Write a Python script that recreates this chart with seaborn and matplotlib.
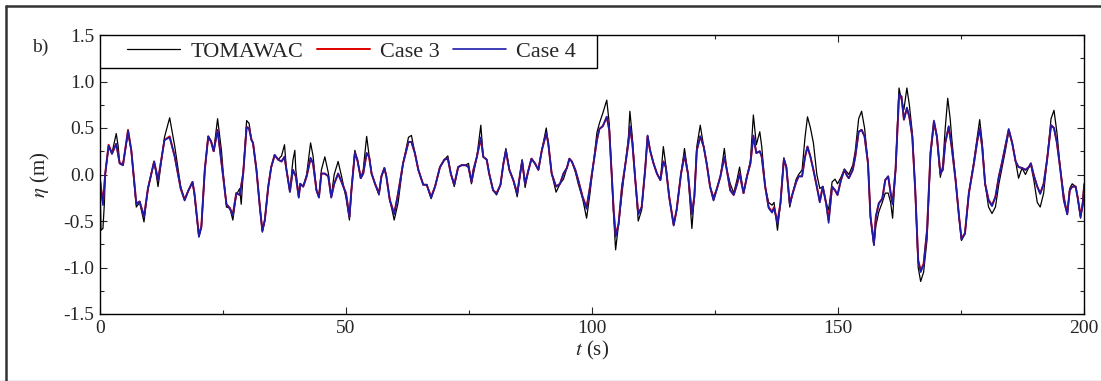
import numpy as np
import pandas as pd
import matplotlib
matplotlib.use("Agg")
import matplotlib.pyplot as plt
from matplotlib.patches import Rectangle
from matplotlib.lines import Line2D
from matplotlib.ticker import MultipleLocator, FormatStrFormatter
import seaborn as sns

# TOMAWAC reference signal (time in s, elevation in m)
t_tomawac = [
    0.0, 0.2, 0.6, 0.9, 1.07, 1.75, 2.43, 3.3, 3.7, 4.0, 4.67, 5.7, 6.36, 7.38, 8.06, 8.94, 9.75,
    11.0, 11.8, 13.1, 14.16, 15.2, 16.4, 17.2, 17.9, 18.8, 19.2, 20.1, 20.6, 21.3, 22.0, 22.6,
    23.1, 23.9, 24.7, 25.0, 25.7, 26.4, 27.0, 27.7, 28.4, 28.7, 29.1, 29.8, 30.3, 30.8, 31.1,
    31.8, 32.5, 33.0, 33.5, 34.2, 34.8, 35.5, 36.2, 36.9, 37.5, 37.9, 38.6, 39.2, 39.6, 39.8,
    40.4, 40.7, 41.3, 42.0, 42.8, 43.3, 44.0, 44.5, 45.0, 45.7, 46.4, 47.0, 47.6, 48.4, 49.1,
    50.0, 50.7, 51.1, 51.8, 52.3, 53.0, 53.5, 54.2, 54.7, 55.2, 55.9, 56.7, 57.2, 57.8, 58.2,
    58.9, 59.8, 60.6, 61.6, 62.7, 63.3, 64.0, 64.7, 65.7, 66.4, 67.3, 68.1, 69.1, 70.0, 70.7,
    71.3, 72.0, 72.8, 73.5, 74.3, 74.9, 75.5, 76.6, 77.4, 77.9, 78.6, 79.1, 79.9, 80.6, 81.4,
    82.0, 82.5, 83.2, 84.0, 84.8, 85.4, 85.8, 86.4, 87.1, 87.7, 88.4, 89.1, 89.8, 90.7, 91.1,
    91.8, 92.7, 93.5, 94.2, 94.9, 95.4, 95.9, 96.6, 97.2, 98.1, 98.9, 99.6, 100.3, 101.0,
    101.5, 102.2, 103.0, 103.5, 104.0, 104.4, 104.8, 105.4, 106.1, 106.7, 107.4, 107.7, 108.2,
    108.8, 109.4, 110.1, 110.8, 111.3, 111.8, 112.5, 113.2, 113.9, 114.5, 115.0, 115.7, 116.6,
    117.2, 118.1, 118.8, 119.5, 120.3, 120.8, 121.3, 122.0, 122.7, 123.3, 124.0, 124.7, 125.4,
    126.1, 126.9, 127.4, 128.1, 128.8, 129.5, 130.0, 130.8, 131.5, 132.2, 132.8, 133.4, 134.1,
    134.5, 135.2, 135.9, 136.6, 137.0, 137.7, 138.3, 139.0, 139.5, 140.2, 140.8, 141.5, 142.0,
    142.7, 143.3, 143.8, 144.4, 145.0, 145.7, 146.3, 146.9, 147.6, 148.1, 148.8, 149.4, 149.9,
    150.6, 151.3, 152.2, 153.0, 153.5, 154.2, 154.8, 155.4, 156.1, 156.6, 157.3, 157.7, 158.3,
    159.0, 159.6, 160.2, 160.7, 161.1, 161.7, 162.4, 162.9, 163.4, 164.0, 164.5, 165.1, 165.7,
    166.3, 166.8, 167.4, 168.1, 168.8, 169.5, 170.1, 170.8, 171.3, 171.8, 172.3, 172.8, 173.1,
    173.9, 174.6, 175.1, 175.8, 176.6, 177.6, 178.3, 178.8, 179.3, 179.9, 180.6, 181.3, 182.0,
    182.7, 183.3, 184.0, 184.7, 185.4, 186.1, 186.7, 187.4, 188.1, 188.8, 189.2, 189.8, 190.5,
    191.1, 191.8, 192.5, 193.3, 193.9, 194.5, 195.2, 195.9, 196.6, 197.1, 197.6, 198.3, 198.7,
    199.3, 199.8, 200.0,
]
eta_tomawac = [
    -0.10, -0.60, -0.58, -0.30, 0.01, 0.30, 0.23, 0.44, 0.30, 0.12, 0.12, 0.44, 0.26, -0.35, -0.30, -0.51, -0.15,
    0.14, -0.13, 0.40, 0.61, 0.30, -0.13, -0.27, -0.18, -0.08, -0.22, -0.67, -0.56, 0.05, 0.41, 0.36,
    0.25, 0.60, 0.25, 0.05, -0.35, -0.36, -0.49, -0.22, -0.15, -0.32, 0.01, 0.58, 0.55, 0.37, 0.34,
    0.05, -0.35, -0.62, -0.49, -0.13, 0.08, 0.21, 0.16, 0.20, 0.32, 0.05, -0.18, 0.15, 0.26, 0.05,
    -0.24, -0.10, -0.13, 0.00, 0.34, 0.20, -0.17, -0.24, 0.05, 0.19, 0.02, -0.24, 0.00, 0.14, -0.02,
    -0.25, -0.49, -0.17, 0.26, 0.16, -0.04, 0.05, 0.41, 0.20, 0.01, -0.10, -0.22, -0.02, 0.07, -0.02,
    -0.27, -0.49, -0.30, 0.12, 0.40, 0.42, 0.23, 0.05, -0.11, -0.11, -0.26, -0.13, 0.08, 0.16, 0.20,
    0.01, -0.13, 0.08, 0.10, 0.10, 0.12, -0.10, 0.19, 0.53, 0.19, 0.16, 0.01, -0.17, -0.22, -0.11,
    0.12, 0.28, 0.05, -0.06, -0.24, 0.01, 0.16, -0.14, 0.05, 0.17, 0.12, 0.05, 0.26, 0.50, 0.34,
    0.01, -0.19, -0.10, -0.05, 0.07, 0.17, 0.14, 0.03, -0.10, -0.26, -0.47, -0.20, 0.12, 0.45,
    0.55, 0.66, 0.80, 0.55, 0.01, -0.45, -0.81, -0.53, -0.20, 0.08, 0.40, 0.68, 0.40,
    -0.06, -0.50, -0.38, 0.05, 0.41, 0.26, 0.12, 0.01, -0.06, 0.30, 0.10, -0.24, -0.54,
    -0.38, 0.01, 0.28, 0.01, -0.58, -0.24, 0.30, 0.53, 0.30, 0.12, -0.13, -0.24, -0.15,
    -0.02, 0.28, 0.05, -0.10, -0.20, -0.05, 0.08, -0.20, -0.02, 0.15, 0.64, 0.32, 0.46,
    0.30, -0.13, -0.30, -0.33, -0.30, -0.60, -0.31, 0.18, 0.08, -0.35, -0.20, -0.05, 0.00,
    0.05, 0.40, 0.62, 0.50, 0.34, 0.00, -0.15, -0.13, -0.31, -0.38, -0.08, -0.05, -0.10,
    -0.03, 0.06, 0.00, 0.10, 0.25, 0.60, 0.68, 0.50, 0.12, -0.45, -0.76, -0.55, -0.40,
    -0.30, -0.20, -0.20, -0.30, -0.47, 0.05, 0.93, 0.80, 0.70, 0.93, 0.75, 0.45, -0.17,
    -1.00, -1.15, -1.05, -0.70, 0.20, 0.55, 0.40, -0.03, 0.10, 0.50, 0.82, 0.60, 0.40,
    -0.06, -0.45, -0.71, -0.63, -0.20, 0.14, 0.40, 0.59, 0.35, -0.10, -0.35, -0.42, -0.35,
    -0.10, 0.06, 0.25, 0.46, 0.34, 0.14, -0.04, 0.07, 0.00, 0.08, 0.10, -0.06, -0.30,
    -0.35, -0.20, 0.16, 0.60, 0.69, 0.45, 0.05, -0.22, -0.43, -0.15, -0.10, -0.13, -0.24,
    -0.47, -0.25, -0.10,
]

# Case 3 / Case 4 share the same output times
t_case = [
    0.0, 0.6, 1.07, 1.75, 2.43, 3.3, 4.0, 4.67, 5.7, 6.36, 7.38, 8.06, 8.94, 9.75, 11.0, 11.8,
    13.1, 14.16, 15.2, 16.4, 17.2, 17.9, 18.8, 19.2, 20.1, 20.6, 21.3, 22.0, 22.6, 23.1, 23.9,
    24.7, 25.7, 26.4, 27.0, 27.7, 28.4, 29.1, 29.8, 30.3, 30.8, 31.1, 31.8, 32.5, 33.0, 33.5,
    34.2, 34.8, 35.5, 36.2, 36.9, 37.5, 37.9, 38.6, 39.2, 39.8, 40.4, 40.7, 41.3, 42.0, 42.8,
    43.3, 44.0, 44.5, 45.0, 45.7, 46.4, 47.0, 47.6, 48.4, 49.1, 50.0, 50.7, 51.1, 51.8, 52.3,
    53.0, 53.5, 54.2, 54.7, 55.2, 55.9, 56.7, 57.2, 57.8, 58.2, 58.9, 59.8, 60.6, 61.6, 62.7,
    63.3, 64.0, 64.7, 65.7, 66.4, 67.3, 68.1, 69.1, 70.0, 70.7, 71.3, 72.0, 72.8, 73.5, 74.3,
    74.9, 75.5, 75.9, 76.6, 77.4, 77.9, 78.6, 79.1, 79.9, 80.6, 81.4, 82.0, 82.5, 83.2, 84.0,
    84.8, 85.4, 85.8, 86.4, 87.1, 87.7, 88.4, 89.1, 89.8, 90.7, 91.1, 91.8, 92.7, 93.5, 94.2,
    94.9, 95.4, 95.9, 96.6, 97.2, 98.1, 98.9, 99.6, 100.3, 101.0, 101.5, 102.2, 103.0, 103.5,
    104.0, 104.4, 104.8, 105.4, 106.1, 106.7, 107.4, 107.7, 108.2, 108.8, 109.4, 110.1, 110.8,
    111.3, 111.8, 112.5, 113.2, 113.9, 114.5, 115.0, 115.7, 116.6, 117.2, 118.1, 118.8, 119.5,
    120.3, 120.8, 121.3, 122.0, 122.7, 123.3, 124.0, 124.7, 125.4, 126.1, 126.9, 127.4, 128.1,
    128.8, 129.5, 130.0, 130.8, 131.5, 132.2, 132.8, 133.4, 134.1, 134.5, 135.2, 135.9, 136.6,
    137.0, 137.7, 138.3, 139.0, 139.5, 140.2, 140.8, 141.5, 142.0, 142.7, 143.3, 143.8, 144.4,
    145.0, 145.7, 146.3, 146.9, 147.6, 148.1, 148.8, 149.4, 149.9, 150.6, 151.3, 151.8, 152.2,
    153.0, 153.5, 154.2, 154.8, 155.4, 156.1, 156.6, 157.3, 157.7, 158.3, 159.0, 159.6, 160.2,
    160.7, 161.1, 161.7, 162.4, 162.9, 163.4, 164.0, 164.5, 165.1, 165.7, 166.3, 166.8, 167.4,
    168.1, 168.8, 169.5, 170.1, 170.8, 171.3, 171.8, 172.5, 173.1, 173.9, 174.6, 175.1, 175.8,
    176.6, 177.6, 178.3, 178.8, 179.3, 179.9, 180.6, 181.3, 182.0, 182.7, 183.3, 184.0, 184.7,
    185.4, 186.1, 186.7, 187.4, 188.1, 188.8, 189.2, 189.8, 190.5, 191.1, 191.8, 192.5, 193.3,
    193.9, 194.5, 195.2, 195.9, 196.6, 197.1, 197.6, 198.3, 198.7, 199.3, 199.8, 200.0,
]
eta_case3 = [
    -0.06, -0.31, 0.01, 0.32, 0.23, 0.33, 0.12, 0.10, 0.48, 0.26, -0.31, -0.29, -0.45, -0.15, 0.14, -0.06,
    0.37, 0.41, 0.19, -0.15, -0.27, -0.18, -0.08, -0.20, -0.65, -0.56, 0.05, 0.41, 0.35, 0.25, 0.48,
    0.12, -0.32, -0.36, -0.43, -0.20, -0.22, 0.01, 0.51, 0.50, 0.37, 0.34, 0.05, -0.35, -0.60, -0.49,
    -0.13, 0.08, 0.21, 0.16, 0.14, 0.19, 0.05, -0.18, 0.05, -0.02, -0.24, -0.10, -0.13, -0.02, 0.17,
    0.12, -0.17, -0.24, 0.01, 0.01, -0.02, -0.24, -0.10, 0.01, -0.08, -0.20, -0.45, -0.17, 0.23, 0.16,
    -0.04, 0.01, 0.23, 0.19, 0.01, -0.10, -0.20, -0.02, 0.07, -0.02, -0.27, -0.42, -0.20, 0.12, 0.35,
    0.35, 0.23, 0.05, -0.11, -0.11, -0.24, -0.13, 0.08, 0.16, 0.17, 0.01, -0.11, 0.08, 0.10, 0.10,
    0.08, -0.08, 0.05, 0.19, 0.39, 0.19, 0.16, 0.01, -0.17, -0.20, -0.11, 0.12, 0.25, 0.05, -0.06,
    -0.20, 0.01, 0.14, -0.10, 0.05, 0.17, 0.12, 0.05, 0.26, 0.44, 0.34, 0.01, -0.13, -0.10, 0.01,
    0.07, 0.17, 0.14, 0.05, -0.06, -0.24, -0.35, -0.13, 0.12, 0.37, 0.49, 0.52, 0.62, 0.48,
    0.01, -0.38, -0.65, -0.53, -0.13, 0.08, 0.34, 0.51, 0.34, -0.06, -0.42, -0.35, 0.05,
    0.41, 0.26, 0.12, 0.01, -0.06, 0.14, 0.08, -0.24, -0.54, -0.38, 0.01, 0.21, 0.01,
    -0.42, -0.24, 0.26, 0.41, 0.30, 0.12, -0.13, -0.27, -0.15, -0.02, 0.19, 0.05, -0.17,
    -0.22, -0.10, 0.01, -0.20, -0.02, 0.12, 0.41, 0.23, 0.25, 0.19, -0.13, -0.35, -0.40,
    -0.35, -0.51, -0.31, 0.16, 0.08, -0.31, -0.20, -0.08, -0.02, -0.02, 0.19, 0.30, 0.19,
    0.05, -0.13, -0.29, -0.13, -0.31, -0.49, -0.13, -0.17, -0.22, -0.06, 0.05, -0.01, -0.04,
    0.05, 0.19, 0.46, 0.48, 0.41, 0.12, -0.45, -0.74, -0.45, -0.31, -0.26, -0.06, -0.02,
    -0.20, -0.31, 0.05, 0.84, 0.84, 0.59, 0.71, 0.62, 0.41, -0.17, -0.92, -1.03, -0.96,
    -0.60, 0.23, 0.57, 0.41, 0.01, 0.05, 0.34, 0.51, 0.30, -0.06, -0.45, -0.69, -0.63,
    -0.20, 0.11, 0.36, 0.49, 0.30, -0.10, -0.27, -0.33, -0.24, -0.02, 0.12, 0.30, 0.48,
    0.34, 0.14, 0.08, 0.07, 0.05, 0.08, 0.12, -0.01, -0.13, -0.20, -0.10, 0.16, 0.53,
    0.50, 0.34, 0.05, -0.27, -0.42, -0.17, -0.13, -0.13, -0.24, -0.44, -0.31, -0.13,
]
eta_case4 = [
    -0.05, -0.33, 0.01, 0.31, 0.22, 0.33, 0.12, 0.10, 0.47, 0.26, -0.32, -0.29, -0.46, -0.15, 0.14, -0.06,
    0.37, 0.40, 0.19, -0.15, -0.28, -0.18, -0.08, -0.21, -0.67, -0.57, 0.05, 0.41, 0.35, 0.25, 0.48,
    0.12, -0.32, -0.37, -0.44, -0.20, -0.22, 0.01, 0.51, 0.49, 0.37, 0.34, 0.05, -0.36, -0.61, -0.49,
    -0.13, 0.08, 0.21, 0.16, 0.14, 0.19, 0.05, -0.19, 0.05, -0.02, -0.25, -0.10, -0.13, -0.02, 0.18,
    0.12, -0.17, -0.25, 0.01, 0.01, -0.02, -0.25, -0.10, 0.01, -0.08, -0.21, -0.46, -0.17, 0.23, 0.16,
    -0.04, 0.01, 0.23, 0.19, 0.01, -0.10, -0.21, -0.02, 0.07, -0.02, -0.28, -0.43, -0.20, 0.12, 0.35,
    0.35, 0.23, 0.05, -0.11, -0.11, -0.25, -0.13, 0.08, 0.16, 0.17, 0.01, -0.11, 0.08, 0.10, 0.10,
    0.08, -0.08, 0.05, 0.19, 0.40, 0.19, 0.16, 0.01, -0.17, -0.21, -0.11, 0.12, 0.26, 0.05, -0.06,
    -0.21, 0.01, 0.15, -0.10, 0.05, 0.17, 0.12, 0.05, 0.26, 0.45, 0.34, 0.01, -0.13, -0.10, 0.01,
    0.07, 0.17, 0.14, 0.05, -0.06, -0.25, -0.37, -0.13, 0.12, 0.37, 0.49, 0.52, 0.62, 0.48,
    0.01, -0.39, -0.67, -0.54, -0.13, 0.08, 0.34, 0.52, 0.34, -0.06, -0.43, -0.35, 0.05,
    0.42, 0.26, 0.12, 0.01, -0.06, 0.14, 0.08, -0.25, -0.55, -0.38, 0.01, 0.21, 0.01,
    -0.43, -0.24, 0.26, 0.41, 0.30, 0.12, -0.13, -0.28, -0.15, -0.02, 0.19, 0.05, -0.17,
    -0.22, -0.10, 0.01, -0.20, -0.02, 0.12, 0.42, 0.23, 0.25, 0.19, -0.13, -0.36, -0.41,
    -0.36, -0.53, -0.31, 0.17, 0.08, -0.32, -0.20, -0.08, -0.02, -0.02, 0.19, 0.30, 0.19,
    0.05, -0.13, -0.30, -0.13, -0.32, -0.52, -0.13, -0.17, -0.22, -0.06, 0.05, -0.01, -0.04,
    0.05, 0.19, 0.46, 0.48, 0.41, 0.12, -0.46, -0.76, -0.45, -0.31, -0.26, -0.06, -0.02,
    -0.20, -0.32, 0.05, 0.86, 0.84, 0.59, 0.72, 0.62, 0.41, -0.17, -0.93, -1.05, -0.97,
    -0.60, 0.23, 0.58, 0.41, 0.01, 0.05, 0.34, 0.52, 0.30, -0.06, -0.46, -0.70, -0.64,
    -0.20, 0.11, 0.36, 0.50, 0.30, -0.10, -0.28, -0.34, -0.24, -0.02, 0.12, 0.30, 0.49,
    0.34, 0.14, 0.08, 0.07, 0.05, 0.08, 0.12, -0.01, -0.13, -0.21, -0.10, 0.16, 0.53,
    0.50, 0.34, 0.05, -0.28, -0.43, -0.17, -0.13, -0.13, -0.25, -0.46, -0.31, -0.13,
]

sns.set_style("ticks")
plt.rcParams.update({
    "font.family": ["Liberation Serif", "DejaVu Serif"],
    "mathtext.fontset": "stix",
    "axes.unicode_minus": False,
    "xtick.direction": "in",
    "ytick.direction": "in",
    "xtick.top": True,
    "ytick.right": True,
})

df_tom = pd.DataFrame({"t": t_tomawac, "eta": eta_tomawac})
df_case = pd.DataFrame({"t": t_case, "Case 3": eta_case3, "Case 4": eta_case4})

W, H = 1101, 381
fig = plt.figure(figsize=(W / 100, H / 100), dpi=100)
# axes spans x 100..1084 px, y 35..314 px
ax = fig.add_axes([100 / W, 1 - 314 / H, 984 / W, 279 / H])

sns.lineplot(data=df_tom, x="t", y="eta", color="black", linewidth=0.9,
             label="TOMAWAC", estimator=None, ax=ax)
sns.lineplot(data=df_case, x="t", y="Case 3", color="#e00000", linewidth=1.4,
             label="Case 3", estimator=None, ax=ax)
sns.lineplot(data=df_case, x="t", y="Case 4", color="#1c1ca8", linewidth=1.2,
             label="Case 4", estimator=None, ax=ax)

ax.set_xlim(0, 200)
ax.set_ylim(-1.5, 1.5)
ax.xaxis.set_major_locator(MultipleLocator(50))
ax.xaxis.set_minor_locator(MultipleLocator(25))
ax.yaxis.set_major_locator(MultipleLocator(0.5))
ax.yaxis.set_minor_locator(MultipleLocator(0.25))
ax.yaxis.set_major_formatter(FormatStrFormatter("%.1f"))
ax.tick_params(which="major", length=5, width=0.8, labelsize=14, pad=4)
ax.tick_params(which="minor", length=3, width=0.8)
ax.tick_params(which="both", top=True, right=True, direction="in")
for sp in ax.spines.values():
    sp.set_linewidth(1.0)
    sp.set_color("black")

ax.set_xlabel(r"$t$ (s)", fontsize=15, labelpad=2)
ax.set_ylabel(r"$\eta$ (m)", fontsize=15, labelpad=8)

# legend box: axes left edge to x=597 px, y 35..68 px
box_w = (597 - 100) / 984
box_h = (68 - 35) / 279
ax.add_patch(Rectangle((0, 1 - box_h), box_w, box_h, transform=ax.transAxes,
                       facecolor="white", edgecolor="black", linewidth=1.0, zorder=4))
leg = ax.legend(loc="center left", bbox_to_anchor=(27 / 984, 1 - box_h / 2),
                borderaxespad=0, borderpad=0, ncol=3, fontsize=16,
                handlelength=2.4, handletextpad=0.45, columnspacing=0.6,
                frameon=False)
leg.set_zorder(5)

fig.text(32 / W, 1 - 47 / H, "b)", fontsize=14, va="center", ha="left")

# panel frame: top and left edges only
fig.add_artist(Line2D([6 / W, 1], [1 - 6 / H, 1 - 6 / H], transform=fig.transFigure,
                      color="#333333", linewidth=1.8))
fig.add_artist(Line2D([6 / W, 6 / W], [0, 1 - 6 / H], transform=fig.transFigure,
                      color="#333333", linewidth=1.8))
fig.patches.append(Rectangle((0, 0), 1, 1.5 / H, transform=fig.transFigure,
                             facecolor="#eeeeee", edgecolor="none", zorder=0))

fig.savefig("out.png", dpi=100)
